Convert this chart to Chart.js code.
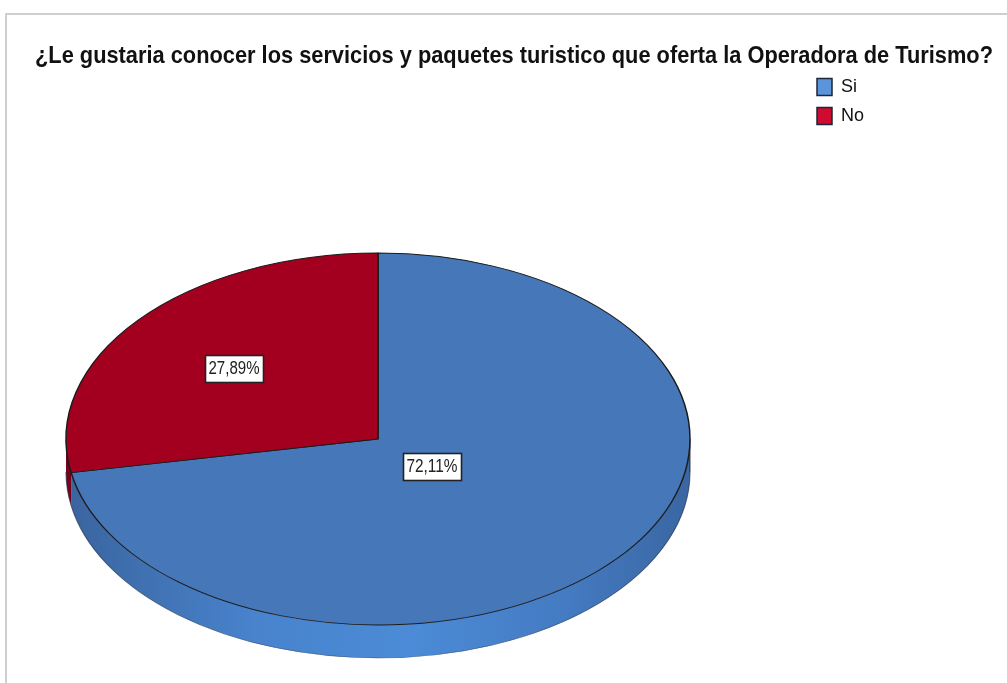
<!DOCTYPE html>
<html>
<head>
<meta charset="utf-8">
<title>Operadora de Turismo</title>
<script src="https://cdn.jsdelivr.net/npm/chart.js@4.4.0/dist/chart.umd.min.js"></script>
<style>
  html, body { margin: 0; padding: 0; background: #fff; }
  #wrap { position: relative; width: 1007px; height: 683px; overflow: hidden; }
  #frame { position: absolute; left: 5px; top: 13px; right: -10px; bottom: -10px;
           border-top: 2px solid #cfcfcf; border-left: 2px solid #cfcfcf; }
  canvas { position: absolute; left: 0; top: 0; }
</style>
</head>
<body>
<div id="wrap">
  <div id="frame"></div>
  <canvas id="pieChart" width="1007" height="683"></canvas>
</div>
<script>
// data
const categories = ['Si', 'No'];
const percentages = [72.11, 27.89];
const chartTitle = '¿Le gustaria conocer los servicios y paquetes turistico que oferta la Operadora de Turismo?';

// colours
const topColors = ['#4678b9', '#a30020'];
const legendColors = ['#5b94da', '#cf0b30'];

// draws the pie as a tilted disc with a front wall, plus the boxed % labels
const pie3d = {
    id: 'pie3d',
    afterLayout(chart, args, opts) {
        // put the legend where SPSS puts it, under the title on the right
        const lg = chart.legend;
        const w = lg.width, h = lg.height;
        lg.left = opts.legendLeft;
        lg.top = opts.legendTop;
        lg.right = lg.left + w;
        lg.bottom = lg.top + h;
    },
    beforeDatasetsDraw(chart, args, opts) {
        const arcs = chart.getDatasetMeta(0).data;
        const ctx = chart.ctx;
        ctx.save();
        if (!arcs.length) return;
        const a0 = arcs[0];
        const R = a0.outerRadius;
        const sx = opts.rx / R, sy = opts.ry / R;
        const cx = a0.x, cy = a0.y;
        ctx.translate(opts.cx, opts.cy);
        ctx.scale(sx, sy);
        ctx.translate(-cx, -cy);
        const d = opts.depth / sy;

        const grad = ctx.createLinearGradient(cx - R, 0, cx + R, 0);
        grad.addColorStop(0, '#3a649e');
        grad.addColorStop(0.3, '#4883cc');
        grad.addColorStop(0.55, '#4c8bd7');
        grad.addColorStop(0.8, '#447bc2');
        grad.addColorStop(1, '#3a66a2');
        const wallColors = [grad, '#78001a'];

        arcs.forEach((arc, i) => {
            const ranges = [[0, Math.PI], [2 * Math.PI, 3 * Math.PI], [-2 * Math.PI, -Math.PI]];
            ranges.forEach(([lo, hi]) => {
                const a1 = Math.max(arc.startAngle, lo);
                const a2 = Math.min(arc.endAngle, hi);
                if (a2 <= a1) return;
                ctx.beginPath();
                ctx.arc(cx, cy, R, a1, a2);
                ctx.arc(cx, cy + d, R, a2, a1, true);
                ctx.closePath();
                ctx.fillStyle = wallColors[i];
                ctx.fill();
                ctx.beginPath();
                ctx.arc(cx, cy + d, R, a1, a2);
                ctx.strokeStyle = 'rgba(30,45,75,0.7)';
                ctx.lineWidth = 1;
                ctx.stroke();
            });
        });
        // right-hand vertical edge of the wall
        ctx.beginPath();
        ctx.moveTo(cx + R, cy);
        ctx.lineTo(cx + R, cy + d);
        ctx.strokeStyle = 'rgba(20,30,50,0.8)';
        ctx.stroke();
    },
    afterDatasetsDraw(chart, args, opts) {
        const ctx = chart.ctx;
        ctx.restore();
        const arcs = chart.getDatasetMeta(0).data;
        const values = chart.data.datasets[0].data;
        ctx.save();
        ctx.font = opts.labelFont;
        ctx.textAlign = 'center';
        ctx.textBaseline = 'middle';
        arcs.forEach((arc, i) => {
            const mid = (arc.startAngle + arc.endAngle) / 2;
            const f = opts.labelRadius[i];
            const x = Math.round(opts.cx + opts.rx * f * Math.cos(mid));
            const y = Math.round(opts.cy + opts.ry * f * Math.sin(mid));
            const bw = opts.boxW, bh = opts.boxH;
            const left = Math.round(x - bw / 2) + 0.5, top = Math.round(y - bh / 2) + 0.5;
            ctx.fillStyle = '#ffffff';
            ctx.fillRect(left, top, bw, bh);
            ctx.strokeStyle = '#222222';
            ctx.lineWidth = 1.6;
            ctx.strokeRect(left, top, bw, bh);
            ctx.fillStyle = '#222222';
            const text = values[i].toFixed(2).replace('.', ',') + '%';
            ctx.fillText(text, x, y + 1, bw - 7);
        });
        ctx.restore();
    }
};

const ctx = document.getElementById('pieChart').getContext('2d');
const pieChart = new Chart(ctx, {
    type: 'pie',
    data: {
        labels: categories,
        datasets: [{
            data: percentages,
            backgroundColor: topColors,
            borderColor: '#1b1b1b',
            borderWidth: 1.4,
            clip: false
        }]
    },
    options: {
        responsive: false,
        animation: false,
        events: [],
        layout: { padding: { left: 35, right: 14, top: 0, bottom: 10 } },
        plugins: {
            title: {
                display: true,
                text: chartTitle,
                color: '#111111',
                font: { family: '"Liberation Sans", Arial, sans-serif', size: 24, weight: 'bold' },
                padding: { top: 42, bottom: 10 }
            },
            legend: {
                position: 'right',
                align: 'start',
                labels: {
                    boxWidth: 15,
                    boxHeight: 17,
                    padding: 11,
                    color: '#111111',
                    font: { family: '"Liberation Sans", Arial, sans-serif', size: 18 },
                    generateLabels(chart) {
                        const items = Chart.overrides.pie.plugins.legend.labels.generateLabels(chart);
                        items.forEach((it, i) => {
                            it.fillStyle = legendColors[i];
                            it.strokeStyle = '#1c2638';
                            it.lineWidth = 1.5;
                        });
                        return items;
                    }
                }
            },
            tooltip: { enabled: false },
            pie3d: {
                cx: 378, cy: 439, rx: 312, ry: 186, depth: 33,
                legendLeft: 806, legendTop: 67,
                labelRadius: [0.225, 0.6],
                labelFont: '18px "Liberation Sans", Arial, sans-serif',
                boxW: 58, boxH: 27
            }
        }
    },
    plugins: [pie3d]
});
</script>
</body>
</html>
